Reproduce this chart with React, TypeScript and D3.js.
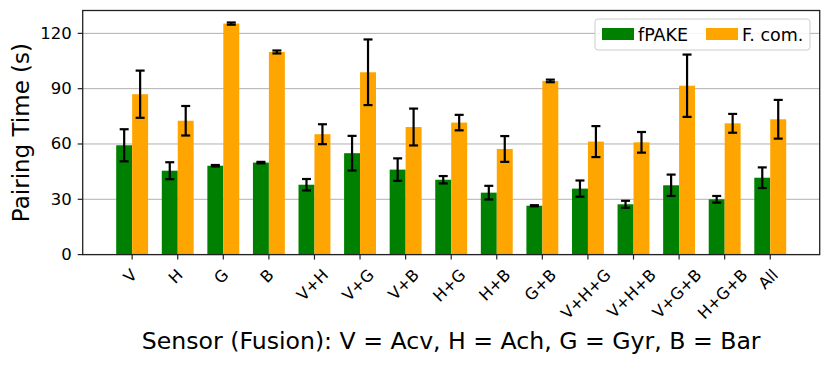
import React, { useEffect, useRef } from "react";
import * as d3 from "d3";

// sensor combinations on the x axis
const categories = [
  "V", "H", "G", "B", "V+H", "V+G", "V+B", "H+G", "H+B", "G+B",
  "V+H+G", "V+H+B", "V+G+B", "H+G+B", "All",
];

// mean pairing time (s) and error (half range)
const fpakeMean = [59.3, 45.5, 48.2, 49.9, 37.9, 55.0, 46.1, 40.6, 33.6, 26.5, 35.8, 27.3, 37.6, 30.0, 41.7];
const fpakeErr = [8.7, 4.6, 0.4, 0.4, 3.1, 9.4, 6.1, 2.0, 3.7, 0.3, 4.4, 1.9, 5.8, 1.8, 5.6];
const fcomMean = [87.0, 72.6, 125.3, 109.9, 65.3, 98.9, 69.2, 71.6, 57.3, 94.2, 61.3, 60.9, 91.6, 71.2, 73.4];
const fcomErr = [12.8, 8.0, 0.6, 0.8, 5.4, 17.8, 10.0, 4.2, 7.0, 0.7, 8.4, 5.6, 16.9, 5.1, 10.5];

const yTicks = [0, 30, 60, 90, 120];
const seriesNames = ["fPAKE", "F. com."];
const seriesColors = ["#008000", "#ffa500"];

const FONT = "DejaVu Sans, sans-serif";

function App() {
  const ref = useRef<SVGSVGElement | null>(null);

  useEffect(() => {
    if (!ref.current) return;
    const width = 830;
    const height = 365;
    const marginLeft = 82.7;
    const marginRight = 10.3;
    const marginTop = 10.5;
    const marginBottom = 110.4;
    const barW = 0.35;

    const svg = d3.select(ref.current);
    svg.selectAll("*").remove();

    const x = d3
      .scaleLinear()
      .domain([-1.085, categories.length - 1 + 1.085])
      .range([marginLeft, width - marginRight]);
    const y = d3
      .scaleLinear()
      .domain([0, 132.4])
      .range([height - marginBottom, marginTop]);

    // grid
    svg.append("g")
      .selectAll("line")
      .data(yTicks)
      .join("line")
      .attr("x1", marginLeft)
      .attr("x2", width - marginRight)
      .attr("y1", (d) => y(d))
      .attr("y2", (d) => y(d))
      .attr("stroke", "#b0b0b0")
      .attr("stroke-width", 1);

    const series = [
      { mean: fpakeMean, err: fpakeErr, offset: -barW },
      { mean: fcomMean, err: fcomErr, offset: 0 },
    ];

    series.forEach((s, si) => {
      svg.append("g")
        .attr("fill", seriesColors[si])
        .selectAll("rect")
        .data(s.mean)
        .join("rect")
        .attr("x", (d, i) => x(i + s.offset))
        .attr("width", x(barW) - x(0))
        .attr("y", (d) => y(d))
        .attr("height", (d) => y(0) - y(d));
    });

    // error bars
    series.forEach((s) => {
      const g = svg.append("g").attr("stroke", "#000").attr("stroke-width", 2.2);
      s.mean.forEach((m, i) => {
        const cx = x(i + s.offset + barW / 2);
        const lo = y(m - s.err[i]);
        const hi = y(m + s.err[i]);
        g.append("line").attr("x1", cx).attr("x2", cx).attr("y1", lo).attr("y2", hi);
        [lo, hi].forEach((yy) =>
          g.append("line")
            .attr("x1", cx - 4.5)
            .attr("x2", cx + 4.5)
            .attr("y1", yy)
            .attr("y2", yy)
        );
      });
    });

    // spines
    svg.append("rect")
      .attr("x", marginLeft)
      .attr("y", marginTop)
      .attr("width", width - marginRight - marginLeft)
      .attr("height", height - marginBottom - marginTop)
      .attr("fill", "none")
      .attr("stroke", "#222")
      .attr("stroke-width", 1.3);

    // y axis
    const yAxis = svg.append("g");
    yTicks.forEach((t) => {
      yAxis.append("line")
        .attr("x1", marginLeft - 5)
        .attr("x2", marginLeft)
        .attr("y1", y(t))
        .attr("y2", y(t))
        .attr("stroke", "#222")
        .attr("stroke-width", 1.2);
      yAxis.append("text")
        .attr("x", marginLeft - 11)
        .attr("y", y(t))
        .attr("text-anchor", "end")
        .attr("dominant-baseline", "central")
        .attr("font-family", FONT)
        .attr("font-size", 16.5)
        .attr("fill", "#000")
        .text(String(t));
    });

    // x axis
    const xAxis = svg.append("g");
    const xFont = 16;
    categories.forEach((c, i) => {
      xAxis.append("line")
        .attr("x1", x(i))
        .attr("x2", x(i))
        .attr("y1", y(0))
        .attr("y2", y(0) + 5)
        .attr("stroke", "#222")
        .attr("stroke-width", 1.2);
      const t = xAxis.append("text")
        .attr("text-anchor", "middle")
        .attr("dominant-baseline", "central")
        .attr("font-family", FONT)
        .attr("font-size", xFont)
        .attr("fill", "#000")
        .text(c);
      const w = (t.node() as SVGTextElement).getComputedTextLength();
      const h = xFont * 0.73;
      const half = (w + h) / (2 * Math.SQRT2);
      t.attr("transform", `translate(${x(i) - 2},${268 + half}) rotate(-45)`);
    });

    // axis labels
    svg.append("text")
      .attr("transform", `translate(29,${(marginTop + height - marginBottom) / 2}) rotate(-90)`)
      .attr("text-anchor", "middle")
      .attr("font-family", FONT)
      .attr("font-size", 23)
      .attr("fill", "#000")
      .text("Pairing Time (s)");

    svg.append("text")
      .attr("x", (marginLeft + width - marginRight) / 2)
      .attr("y", 349)
      .attr("text-anchor", "middle")
      .attr("font-family", FONT)
      .attr("font-size", 23.6)
      .attr("fill", "#000")
      .text("Sensor (Fusion): V = Acv, H = Ach, G = Gyr, B = Bar");

    // legend
    const legend = svg.append("g");
    legend.append("rect")
      .attr("x", 595)
      .attr("y", 19)
      .attr("width", 215)
      .attr("height", 31)
      .attr("rx", 3)
      .attr("fill", "#fff")
      .attr("fill-opacity", 0.85)
      .attr("stroke", "#cccccc")
      .attr("stroke-width", 1);
    const legendX = [602, 706];
    seriesNames.forEach((name, i) => {
      legend.append("rect")
        .attr("x", legendX[i])
        .attr("y", 28)
        .attr("width", 32)
        .attr("height", 12)
        .attr("fill", seriesColors[i]);
      legend.append("text")
        .attr("x", legendX[i] + 36)
        .attr("y", 41)
        .attr("font-family", FONT)
        .attr("font-size", 17.5)
        .attr("fill", "#000")
        .text(name);
    });
  }, []);

  return (
    <svg
      ref={ref}
      width={830}
      height={365}
      viewBox="0 0 830 365"
      style={{ position: "absolute", left: 0, top: 0, background: "#fff" }}
    />
  );
}

export default App;
